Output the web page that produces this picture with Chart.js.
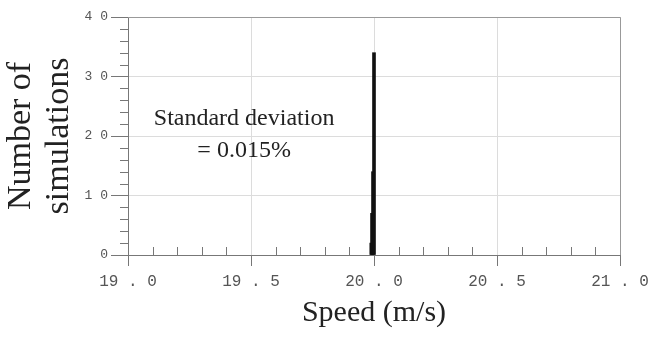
<!DOCTYPE html>
<html><head><meta charset="utf-8">
<script src="https://cdn.jsdelivr.net/npm/chart.js@4/dist/chart.umd.min.js"></script>
<style>html,body{margin:0;padding:0;background:#fff}#wrap{width:650px;height:339px}</style>
</head><body><div id="wrap"><canvas id="c" width="650" height="339"></canvas></div>
<script>
// ---- data ----
const speedBins = [19.989, 19.992, 19.996, 20.000];
const simulationCounts = [2, 7, 14, 34];
const xTickValues = [19.0, 19.5, 20.0, 20.5, 21.0];
const xTickLabels = ['19 . 0', '19 . 5', '20 . 0', '20 . 5', '21 . 0'];
const yTickValues = [0, 10, 20, 30, 40];
const yTickLabels = ['0', '1 0', '2 0', '3 0', '4 0'];
const xMinorStep = 0.1;
const yMinorStep = 2;
const annotationLines = ['Standard deviation', '= 0.015%'];
const annotationAt = { x: 19.472, y: 21.85 };

const minorTicks = {
  id: 'minorTicks',
  afterDraw(chart) {
    const { ctx, chartArea: a, scales: { x, y } } = chart;
    ctx.save();
    ctx.strokeStyle = '#777';
    ctx.lineWidth = 1;
    ctx.beginPath();
    const nx = Math.round((x.max - x.min) / xMinorStep);
    for (let i = 1; i < nx; i++) {
      if (i % 5 === 0) continue;
      const px = Math.round(x.getPixelForValue(x.min + i * xMinorStep)) + 0.5;
      ctx.moveTo(px, a.bottom);
      ctx.lineTo(px, a.bottom - 8);
    }
    const ny = Math.round((y.max - y.min) / yMinorStep);
    for (let i = 1; i < ny; i++) {
      if ((i * yMinorStep) % 10 === 0) continue;
      const py = Math.round(y.getPixelForValue(y.min + i * yMinorStep)) + 0.5;
      ctx.moveTo(a.left, py);
      ctx.lineTo(a.left - 8, py);
    }
    ctx.stroke();
    ctx.strokeStyle = '#999';
    ctx.beginPath();
    const t = Math.round(a.top) + 0.5, r = Math.round(a.right) + 0.5;
    ctx.moveTo(a.left, t); ctx.lineTo(r, t); ctx.lineTo(r, a.bottom);
    ctx.stroke();
    ctx.restore();
  }
};

const annotation = {
  id: 'annotation',
  afterDatasetsDraw(chart) {
    const { ctx, scales: { x, y } } = chart;
    const px = x.getPixelForValue(annotationAt.x);
    const py = y.getPixelForValue(annotationAt.y);
    ctx.save();
    ctx.font = '24px "Liberation Serif", "Times New Roman", serif';
    ctx.fillStyle = '#222';
    ctx.textAlign = 'center';
    ctx.textBaseline = 'alphabetic';
    annotationLines.forEach((s, i) => ctx.fillText(s, px, py + i * 32));
    ctx.restore();
  }
};

new Chart(document.getElementById('c'), {
  type: 'bar',
  data: {
    datasets: [{
      data: speedBins.map((v, i) => ({ x: v, y: simulationCounts[i] })),
      backgroundColor: '#111',
      borderWidth: 0,
      barThickness: 3
    }]
  },
  options: {
    responsive: false,
    devicePixelRatio: 1,
    animation: false,
    layout: { padding: { top: 17, right: 30, left: 0, bottom: 0 } },
    plugins: { legend: { display: false }, tooltip: { enabled: false } },
    scales: {
      x: {
        type: 'linear',
        min: 19, max: 21,
        offset: false,
        afterBuildTicks(s) { s.ticks = xTickValues.map(v => ({ value: v })); },
        afterFit(s) { s.height = 84; s.paddingLeft = 0; s.paddingRight = 0; },
        ticks: {
          callback: (v, i) => xTickLabels[i],
          font: { family: '"Liberation Mono", monospace', size: 16 },
          color: '#555',
          padding: 6,
          maxRotation: 0
        },
        grid: { offset: false, color: '#dcdcdc', tickColor: '#777', tickLength: 11 },
        border: { color: '#777' },
        title: {
          display: true,
          text: 'Speed (m/s)',
          font: { family: '"Liberation Serif", "Times New Roman", serif', size: 30, lineHeight: 1.2 },
          color: '#222',
          padding: { top: 0, bottom: 8 }
        }
      },
      y: {
        min: 0, max: 40,
        afterBuildTicks(s) { s.ticks = yTickValues.map(v => ({ value: v })); },
        afterFit(s) { s.width = 128; },
        ticks: {
          callback: (v, i) => yTickLabels[i],
          font: { family: '"Liberation Mono", monospace', size: 13 },
          color: '#555',
          padding: 3
        },
        grid: { color: '#dcdcdc', tickColor: '#777', tickLength: 17 },
        border: { color: '#777' },
        title: {
          display: true,
          text: ['Number of', 'simulations'],
          font: { family: '"Liberation Serif", "Times New Roman", serif', size: 34, lineHeight: 1.09 },
          color: '#222',
          padding: { top: 3, bottom: 0 }
        }
      }
    }
  },
  plugins: [minorTicks, annotation]
});
</script>
</body></html>
